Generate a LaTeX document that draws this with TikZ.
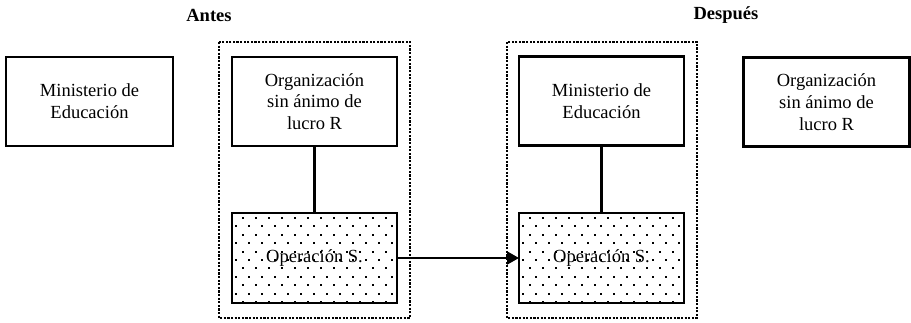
\documentclass[tikz,border=0pt]{standalone}
\usepackage{fontspec}
\setmainfont{Liberation Serif}
\usetikzlibrary{arrows.meta}
\tikzset{
  box/.style={draw, line width=2.6pt, inner sep=0pt, outer sep=0pt, align=center,
    font=\fontsize{18.5}{21.7}\selectfont, minimum width=165pt, minimum height=89pt},
  container/.style={draw, line width=2.6pt, dash pattern=on 2.2pt off 1.4pt},
  link/.style={line width=2.2pt},
  heading/.style={font=\fontsize{18.5}{21.7}\selectfont\bfseries, inner sep=0pt},
  dotfill/.style={fill=black},
}
\newcommand{\dotpattern}[4]{% x1 y1 x2 y2 (y down values)
  \begin{scope}
    \clip (#1,#2) rectangle (#3,#4);
    \foreach \r in {0,...,11}{
      \pgfmathsetmacro{\yy}{#2+4+8.4*\r}
      \pgfmathsetmacro{\off}{mod(\r,2)==0 ? 9.5 : 3}
      \foreach \c in {0,...,13}{
        \pgfmathsetmacro{\xx}{#1+\off+13*\c}
        \fill[dotfill] (\xx-1,\yy-1) rectangle (\xx+1,\yy+1);
      }
    }
  \end{scope}
}
\begin{document}
\begin{tikzpicture}[x=1pt,y=-1pt]
\useasboundingbox (0,0) rectangle (911,322);
% containers
\draw[container] (219,42) rectangle (410,318);
\draw[container] (507,42) rectangle (697,318);
% headings
\node[heading] (antes) at (209,15) {Antes};
\node[heading] (despues) at (726,15) {Después};
% dot patterns
\dotpattern{233}{214}{396}{302}
\dotpattern{520}{214}{683}{302}
% boxes
\node[box, minimum width=167pt] (min1) at (89.5,101.5) {Ministerio de\\Educación};
\node[box] (org1) at (314.5,101.5) {Organización\\sin ánimo de\\lucro R};
\node[box, minimum height=90pt] (op1) at (314.5,258) {Operación S.};
\node[box] (min2) at (601.5,101) {Ministerio de\\Educación};
\node[box, minimum height=90pt] (op2) at (601.5,258) {Operación S.};
\node[box, minimum width=166pt] (org2) at (826.5,102) {Organización\\sin ánimo de\\lucro R};
% connectors
\draw[link] (org1.south) -- (op1.north);
\draw[link] (min2.south) -- (op2.north);
\draw[link, -{Triangle[length=12pt,width=13pt]}] (op1.east) -- (op2.west);
\end{tikzpicture}
\end{document}
